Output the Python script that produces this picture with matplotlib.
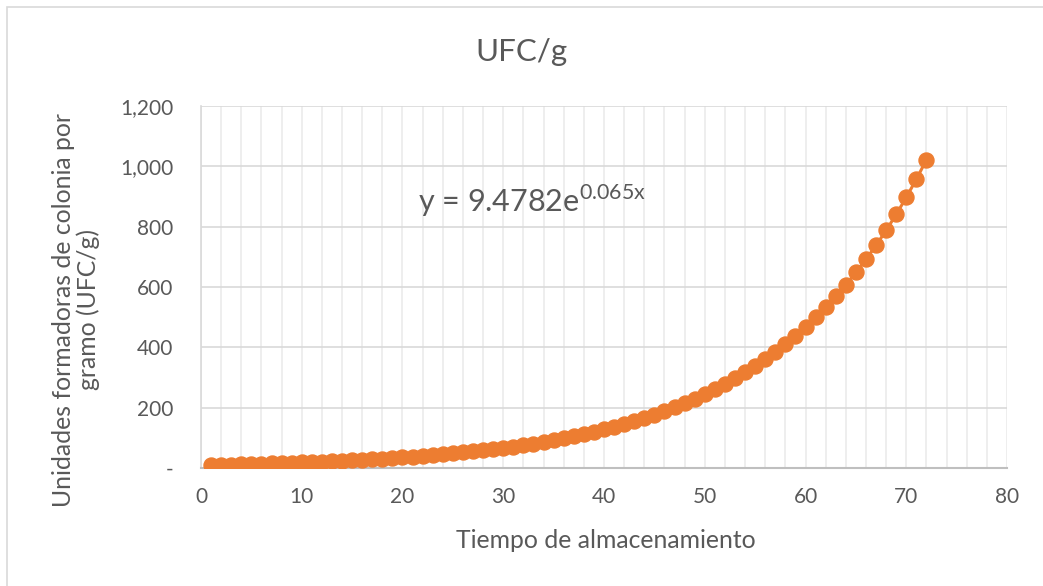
import matplotlib.pyplot as plt
from matplotlib.patches import Rectangle
from matplotlib.ticker import FuncFormatter, MultipleLocator

plt.rcParams['font.family'] = ['Lato', 'DejaVu Sans']

# storage time (days) and colony counts
dias = list(range(1, 73))
ufc = [10.1, 10.8, 11.5, 12.3, 13.1, 14.0, 14.9, 15.9, 17.0, 18.2,
       19.4, 20.7, 22.1, 23.6, 25.1, 26.8, 28.6, 30.5, 32.6, 34.8,
       37.1, 39.6, 42.3, 45.1, 48.1, 51.4, 54.8, 58.5, 62.4, 66.6,
       71.1, 75.9, 81.0, 86.4, 92.2, 98.4, 105.0, 112.1, 119.6, 127.6,
       136.2, 145.3, 155.1, 165.5, 176.6, 188.5, 201.2, 214.7, 229.1, 244.5,
       260.9, 278.4, 297.1, 317.0, 338.3, 361.1, 385.3, 411.2, 438.8, 468.3,
       499.7, 533.3, 569.1, 607.3, 648.1, 691.6, 738.1, 787.6, 840.5, 897.0,
       957.2, 1021.5]

titulo = "UFC/g"
eje_x = "Tiempo de almacenamiento"
eje_y = "Unidades formadoras de colonia por\ngramo (UFC/g)"
ecuacion = r"y = 9.4782e$^{\mathregular{0.065x}}$"
texto_gris = "#595959"
naranja = "#ED7D31"

fig = plt.figure(figsize=(10.43, 5.86), dpi=100)
ax = fig.add_axes([0.1927, 0.2014, 0.7728, 0.6177])

# chart border (only top and left visible in the crop)
fig.patches.append(Rectangle((7 / 1043, -0.05), 1.2, 1 - 7 / 586 + 0.05,
                             transform=fig.transFigure, fill=False,
                             edgecolor="#d9d9d9", linewidth=1.2))

ax.plot(dias, ufc, color=naranja, linewidth=2.2, marker="o",
        markersize=10.8, zorder=3)

ax.set_xlim(0, 80)
ax.set_ylim(0, 1200)
ax.xaxis.set_major_locator(MultipleLocator(10))
ax.xaxis.set_minor_locator(MultipleLocator(2))
ax.yaxis.set_major_locator(MultipleLocator(200))
ax.yaxis.set_major_formatter(FuncFormatter(lambda v, p: "-" if v == 0 else f"{v:,.0f}"))

ax.grid(which="minor", axis="x", color="#ebebeb", linewidth=1.2)
ax.grid(which="major", axis="x", color="#ebebeb", linewidth=1.2)
ax.grid(which="major", axis="y", color="#d9d9d9", linewidth=1.2)
ax.set_axisbelow(True)

for s in ["top", "right"]:
    ax.spines[s].set_visible(False)
ax.spines["bottom"].set_color("#bfbfbf")
ax.spines["bottom"].set_linewidth(1.5)
ax.spines["left"].set_color("#d9d9d9")
ax.spines["left"].set_linewidth(1.2)

ax.tick_params(which="both", length=0, labelsize=15, labelcolor=texto_gris)
ax.tick_params(axis="x", pad=14)
ax.tick_params(axis="y", pad=20)

fig.text(606 / 1043, 1 - 540 / 586, eje_x, ha="center", va="center",
         fontsize=17.8, color=texto_gris)
fig.text(76 / 1043, 1 - 310 / 586, eje_y, ha="center", va="center", rotation=90,
         multialignment="center", fontsize=17.8, color=texto_gris, linespacing=1.1)

fig.text(0.5, 1 - 52 / 586, titulo, ha="center", va="center", fontsize=22.5, color=texto_gris)
ax.text(21.5, 885, ecuacion, ha="left", va="center", fontsize=22, color=texto_gris)

fig.savefig("out.png", dpi=100)
